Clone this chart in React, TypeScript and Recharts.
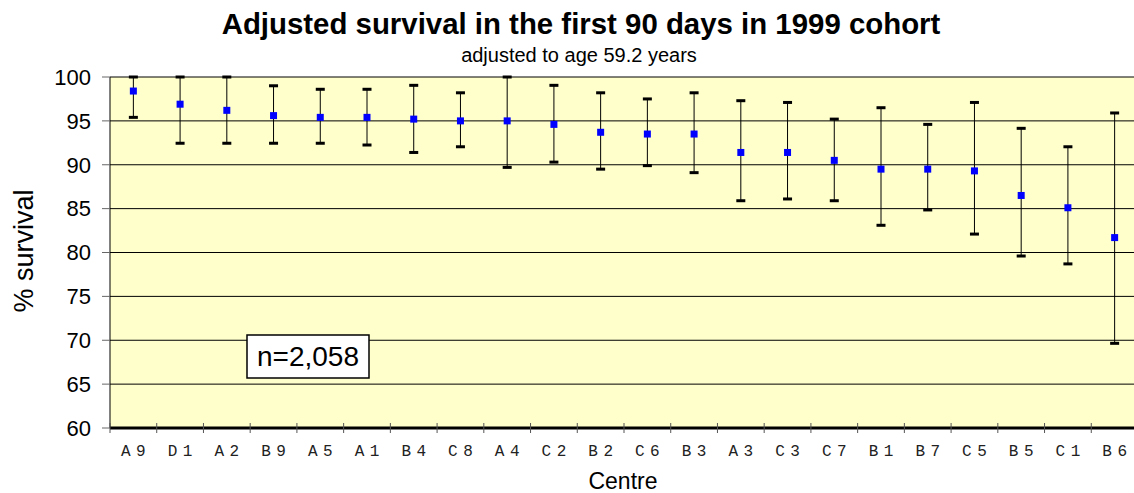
import React from 'react';
import { ComposedChart, Line, XAxis, YAxis, CartesianGrid, ErrorBar } from 'recharts';

const centres = ['A9','D1','A2','B9','A5','A1','B4','C8','A4','C2','B2','C6','B3','A3','C3','C7','B1','B7','C5','B5','C1','B6'];
const survival = [98.4, 96.9, 96.2, 95.6, 95.4, 95.4, 95.2, 95.0, 95.0, 94.6, 93.7, 93.5, 93.5, 91.4, 91.4, 90.5, 89.5, 89.5, 89.3, 86.5, 85.1, 81.7];
const upperCI = [100, 100, 100, 99.0, 98.6, 98.6, 99.05, 98.2, 100, 99.05, 98.2, 97.5, 98.2, 97.3, 97.1, 95.2, 96.5, 94.6, 97.1, 94.15, 92.05, 95.9];
const lowerCI = [95.4, 92.45, 92.45, 92.45, 92.45, 92.25, 91.4, 92.05, 89.7, 90.3, 89.5, 89.9, 89.1, 85.9, 86.1, 85.9, 83.1, 84.85, 82.1, 79.6, 78.7, 69.65];
const yTicks = [60, 65, 70, 75, 80, 85, 90, 95, 100];

const titleText = 'Adjusted survival in the first 90 days in 1999 cohort';
const subtitleText = 'adjusted to age 59.2 years';
const yLabel = '% survival';
const xLabel = 'Centre';
const noteText = 'n=2,058';

const data = centres.map((c, i) => ({
  centre: c,
  mean: survival[i],
  upper: upperCI[i],
  lower: lowerCI[i],
  err: [survival[i] - lowerCI[i], upperCI[i] - survival[i]],
}));

const SANS = "'Liberation Sans', Arial, Helvetica, sans-serif";
const MONO = "'Liberation Mono', 'Courier New', monospace";

const W = 1140;
const H = 493;

function CentreTick(props: any) {
  const { x, y, payload } = props;
  const half = payload && payload.offset != null ? payload.offset : 0;
  return (
    <g>
      <line x1={x - half} x2={x - half} y1={y - 5} y2={y + 5} stroke="#555" strokeWidth={1} />
      <text
        x={x}
        y={y + 28}
        dx={2.75}
        textAnchor="middle"
        fontFamily={MONO}
        fontSize={16}
        letterSpacing={5.5}
        fill="#222"
      >
        {payload.value}
      </text>
    </g>
  );
}

function MeanDot(props: any) {
  const { cx, cy, index } = props;
  if (cx == null || cy == null) return <g key={`m${index}`} />;
  return <rect key={`m${index}`} x={cx - 3.5} y={cy - 3.5} width={7} height={7} fill="#0000FF" />;
}

function CapDot(props: any) {
  const { cx, cy, index, dataKey } = props;
  if (cx == null || cy == null) return <g key={`c${dataKey}${index}`} />;
  return <rect key={`c${dataKey}${index}`} x={cx - 4.5} y={cy - 1.5} width={9} height={3} fill="#000" />;
}

export default function App() {
  return (
    <div style={{ position: 'absolute', left: 0, top: 0, width: 1134, height: H, overflow: 'hidden', background: '#fff' }}>
      <ComposedChart
        width={W}
        height={H}
        data={data}
        margin={{ top: 77, right: 2, bottom: 0, left: 0 }}
      >
        <CartesianGrid
          horizontal={true}
          vertical={false}
          stroke="#000"
          strokeWidth={1}
          fill="#FFFFCC"
          fillOpacity={1}
        />
        <XAxis
          dataKey="centre"
          type="category"
          scale="band"
          interval={0}
          height={65}
          tickLine={false}
          tickSize={0}
          tickMargin={0}
          axisLine={{ stroke: '#000', strokeWidth: 3 }}
          tick={<CentreTick />}
        />
        <YAxis
          type="number"
          domain={[60, 100]}
          ticks={yTicks}
          width={110}
          interval={0}
          tickSize={8}
          tickMargin={11}
          tickLine={{ stroke: '#666' }}
          axisLine={{ stroke: '#000', strokeWidth: 1 }}
          tick={{ fill: '#000', fontSize: 22, fontFamily: SANS }}
        />
        <Line
          dataKey="mean"
          stroke="none"
          isAnimationActive={false}
          dot={false}
          activeDot={false}
        >
          <ErrorBar dataKey="err" direction="y" width={0} stroke="#000" strokeWidth={1} isAnimationActive={false} />
        </Line>
        <Line dataKey="upper" stroke="none" isAnimationActive={false} dot={<CapDot />} activeDot={false} />
        <Line dataKey="lower" stroke="none" isAnimationActive={false} dot={<CapDot />} activeDot={false} />
        <Line dataKey="mean" stroke="none" isAnimationActive={false} dot={<MeanDot />} activeDot={false} />
      </ComposedChart>
      <svg
        width={1134}
        height={H}
        style={{ position: 'absolute', left: 0, top: 0, pointerEvents: 'none' }}
      >
        <text x={581} y={34} textAnchor="middle" fontFamily={SANS} fontWeight="bold" fontSize={29.4} fill="#000">
          {titleText}
        </text>
        <text x={579} y={62} textAnchor="middle" fontFamily={SANS} fontSize={20} fill="#000">
          {subtitleText}
        </text>
        <text
          x={33}
          y={251}
          transform="rotate(-90, 33, 251)"
          textAnchor="middle"
          fontFamily={SANS}
          fontSize={27}
          fill="#000"
        >
          {yLabel}
        </text>
        <text x={623} y={489} textAnchor="middle" fontFamily={SANS} fontSize={23} fill="#000">
          {xLabel}
        </text>
        <rect x={247} y={335} width={122} height={43} fill="#fff" stroke="#000" strokeWidth={1.5} />
        <text x={308} y={366} textAnchor="middle" fontFamily={SANS} fontSize={28} fill="#000">
          {noteText}
        </text>
      </svg>
    </div>
  );
}
